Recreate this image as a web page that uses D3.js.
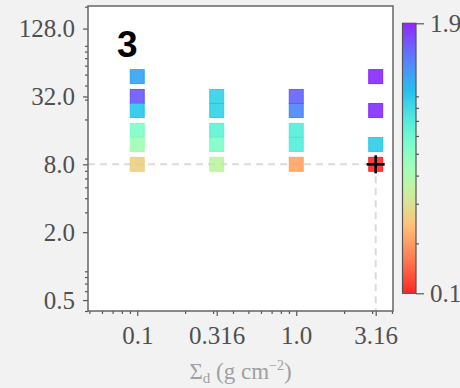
<!DOCTYPE html>
<html>
<head>
<meta charset="utf-8">
<script src="https://cdn.jsdelivr.net/npm/d3@7"></script>
<style>
  html, body { margin: 0; padding: 0; background: #f2f2f2; }
  svg { display: block; }
</style>
</head>
<body>
<svg id="chart" width="460" height="388"></svg>
<script>
// Dust surface density (x), y value, and colour value of each run
const sigmaD = [0.1, 0.1, 0.1, 0.1, 0.1, 0.1,
                0.316, 0.316, 0.316, 0.316, 0.316,
                1.0, 1.0, 1.0, 1.0, 1.0,
                3.16, 3.16, 3.16, 3.16];
const yVals  = [48, 32, 24, 16, 12, 8,
                32, 24, 16, 12, 8,
                32, 24, 16, 12, 8,
                48, 24, 12, 8];
const cVals  = [1.09, 1.52, 0.90, 0.53, 0.43, 0.27,
                0.84, 0.84, 0.64, 0.53, 0.36,
                1.45, 1.25, 0.68, 0.68, 0.21,
                1.82, 1.78, 0.87, 0.125];

// Highlighted reference run
const refX = [3.16];
const refY = [8];

// Axis ticks
const xTicks = [0.1, 0.316, 1.0, 3.16];
const xTickLabels = ["0.1", "0.316", "1.0", "3.16"];
const yTicks = [0.5, 2, 8, 32, 128];
const yTickLabels = ["0.5", "2.0", "8.0", "32.0", "128.0"];
const cRange = [0.12, 1.9];
const cTickLabels = ["0.1", "1.9"];
const panelLabel = "3";

const svg = d3.select("#chart");
const plot = { left: 88, top: 6, right: 393, bottom: 311 };
const cbar = { left: 402.5, width: 13.5, top: 23.3, bottom: 293.3 };

const x = d3.scaleLog().domain([0.049, 4.06]).range([plot.left, plot.right]);
const y = d3.scaleLog().domain([0.4, 203]).range([plot.bottom, plot.top]);
const cNorm = d3.scaleLog().domain(cRange).range([0, 1]).clamp(true);

// matplotlib "rainbow" colormap, reversed
function rainbow(v) {
  const cl = t => Math.max(0, Math.min(1, t));
  const r = cl(Math.abs(2 * v - 0.5));
  const g = cl(Math.sin(Math.PI * v));
  const b = cl(Math.cos(Math.PI * v / 2));
  return d3.rgb(r * 255, g * 255, b * 255).formatHex();
}
const rainbowR = t => rainbow(1 - t);
const colorOf = v => rainbowR(cNorm(v));

const tickColor = "#555";
const serif = "'Liberation Serif', 'DejaVu Serif', serif";

// minor log ticks: 2..9 x 10^k inside a domain, skipping major ticks
function minorTicks(domain, majors) {
  const out = [];
  const lo = Math.floor(Math.log10(domain[0])) - 1;
  const hi = Math.ceil(Math.log10(domain[1])) + 1;
  for (let k = lo; k <= hi; k++) {
    for (let m = 2; m <= 9; m++) {
      const v = m * Math.pow(10, k);
      if (v < domain[0] || v > domain[1]) continue;
      if (majors.some(t => Math.abs(t - v) / v < 1e-6)) continue;
      out.push(v);
    }
  }
  return out;
}

// axes background
svg.append("rect")
  .attr("x", plot.left).attr("y", plot.top)
  .attr("width", plot.right - plot.left).attr("height", plot.bottom - plot.top)
  .attr("fill", "#ffffff");

// reference guide lines
svg.append("line")
  .attr("x1", plot.left).attr("x2", x(refX[0]))
  .attr("y1", y(refY[0])).attr("y2", y(refY[0]))
  .attr("stroke", "#dcdcdc").attr("stroke-width", 2)
  .attr("stroke-dasharray", "7,5");
svg.append("line")
  .attr("x1", x(refX[0])).attr("x2", x(refX[0]))
  .attr("y1", y(refY[0])).attr("y2", plot.bottom)
  .attr("stroke", "#dcdcdc").attr("stroke-width", 2)
  .attr("stroke-dasharray", "7,5");

// square markers
const pts = sigmaD.map((s, i) => ({ s, v: yVals[i], c: cVals[i] }));
const half = 7;
svg.append("g").selectAll("rect")
  .data(pts).join("rect")
  .attr("x", d => x(d.s) - half)
  .attr("y", d => y(d.v) - half)
  .attr("width", half * 2).attr("height", half * 2)
  .attr("fill", d => colorOf(d.c))
  .attr("fill-opacity", 0.8)
  .attr("stroke", d => colorOf(d.c))
  .attr("stroke-opacity", 0.8)
  .attr("stroke-width", 1);

// plus marker on the reference run
const plusG = svg.append("g");
refX.forEach((rx, i) => {
  const cx = x(rx), cy = y(refY[i]);
  plusG.append("line").attr("x1", cx - 9).attr("x2", cx + 9)
    .attr("y1", cy).attr("y2", cy).attr("stroke", "#000").attr("stroke-width", 2.6);
  plusG.append("line").attr("x1", cx).attr("x2", cx)
    .attr("y1", cy - 9).attr("y2", cy + 9).attr("stroke", "#000").attr("stroke-width", 2.6);
});

// axes
const xMajor = svg.append("g").attr("transform", `translate(0,${plot.bottom})`)
  .call(d3.axisBottom(x).tickValues(xTicks).tickSize(5).tickPadding(9)
    .tickFormat((d, i) => xTickLabels[i]));
const xMinor = svg.append("g").attr("transform", `translate(0,${plot.bottom})`)
  .call(d3.axisBottom(x).tickValues(minorTicks(x.domain(), xTicks)).tickSize(3).tickFormat(""));
const yMajor = svg.append("g").attr("transform", `translate(${plot.left},0)`)
  .call(d3.axisLeft(y).tickValues(yTicks).tickSize(5).tickPadding(8)
    .tickFormat((d, i) => yTickLabels[i]));
const yMinor = svg.append("g").attr("transform", `translate(${plot.left},0)`)
  .call(d3.axisLeft(y).tickValues(minorTicks(y.domain(), yTicks)).tickSize(3).tickFormat(""));

[xMajor, xMinor, yMajor, yMinor].forEach(g => {
  g.select(".domain").remove();
  g.selectAll(".tick line").attr("stroke", tickColor).attr("stroke-width", 1.2);
  g.selectAll(".tick text")
    .attr("font-family", serif).attr("font-size", 25).attr("fill", "#505050");
});
xMajor.selectAll(".tick text").attr("dy", "0.75em");
yMajor.selectAll(".tick text").attr("dy", "0.33em");

// frame
svg.append("rect")
  .attr("x", plot.left).attr("y", plot.top)
  .attr("width", plot.right - plot.left).attr("height", plot.bottom - plot.top)
  .attr("fill", "none").attr("stroke", "#666").attr("stroke-width", 1.5);

// x-axis label
const xl = svg.append("text")
  .attr("x", (plot.left + plot.right) / 2).attr("y", 379)
  .attr("text-anchor", "middle")
  .attr("font-family", serif).attr("font-size", 23).attr("fill", "#a0a0a0");
xl.append("tspan").text("Σ");
xl.append("tspan").attr("font-size", 15).attr("dy", 4).text("d");
xl.append("tspan").attr("dy", -4).text(" (g cm");
xl.append("tspan").attr("font-size", 14).attr("dy", -9).text("−2");
xl.append("tspan").attr("dy", 9).text(")");

// panel label
svg.append("text")
  .attr("x", 117).attr("y", 57)
  .attr("font-family", "'Liberation Sans', Arial, sans-serif")
  .attr("font-weight", "bold").attr("font-size", 37).attr("fill", "#000")
  .text(panelLabel);

// colour bar
const defs = svg.append("defs");
const grad = defs.append("linearGradient").attr("id", "cgrad")
  .attr("x1", 0).attr("y1", 1).attr("x2", 0).attr("y2", 0);
d3.range(0, 1.0001, 0.05).forEach(t => {
  grad.append("stop").attr("offset", t).attr("stop-color", rainbowR(t));
});
svg.append("rect")
  .attr("x", cbar.left).attr("y", cbar.top)
  .attr("width", cbar.width).attr("height", cbar.bottom - cbar.top)
  .attr("fill", "#fff");
svg.append("rect")
  .attr("x", cbar.left).attr("y", cbar.top)
  .attr("width", cbar.width).attr("height", cbar.bottom - cbar.top)
  .attr("fill", "url(#cgrad)").attr("fill-opacity", 0.85)
  .attr("stroke", "#555").attr("stroke-width", 1.2);

const cy = d3.scaleLog().domain(cRange).range([cbar.bottom, cbar.top]);
const cbRight = cbar.left + cbar.width;
svg.append("g").attr("transform", `translate(${cbRight},0)`)
  .call(d3.axisRight(cy).tickValues(minorTicks(cRange, [])).tickSize(3).tickFormat(""))
  .call(g => g.select(".domain").remove())
  .call(g => g.selectAll(".tick line").attr("stroke", tickColor).attr("stroke-width", 1.2));
const cMajor = svg.append("g").attr("transform", `translate(${cbRight},0)`)
  .call(d3.axisRight(cy).tickValues(cRange).tickSize(8).tickPadding(6)
    .tickFormat((d, i) => cTickLabels[i]));
cMajor.select(".domain").remove();
cMajor.selectAll(".tick line").attr("stroke", tickColor).attr("stroke-width", 1.2);
cMajor.selectAll(".tick text")
  .attr("font-family", serif).attr("font-size", 25).attr("fill", "#505050")
  .attr("dy", "0.33em");
</script>
</body>
</html>
